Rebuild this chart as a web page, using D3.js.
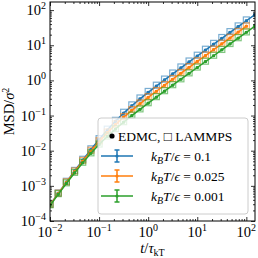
<!DOCTYPE html>
<html>
<head>
<meta charset="utf-8">
<script src="https://cdn.jsdelivr.net/npm/d3@7"></script>
<style>
  body { margin: 0; background: #fff; }
  svg { display: block; }
  text { font-family: "Liberation Serif", "DejaVu Serif", serif; fill: #000; }
</style>
</head>
<body>
<div id="chart"></div>
<script>
// sampling times t / tau_kT (6 per decade)
const times = [0.01, 0.01468, 0.02154, 0.03162, 0.04642, 0.06813, 0.1, 0.1468, 0.2154, 0.3162,
  0.4642, 0.6813, 1, 1.468, 2.154, 3.162, 4.642, 6.813, 10, 14.68, 21.54, 31.62, 46.42, 68.13, 100, 146.8];

// EDMC (dots + error bars), one per temperature
const edmcHot = [2.87e-4, 6.11e-4, 1.28e-3, 2.65e-3, 5.41e-3, 1.08e-2, 2.09e-2, 3.88e-2, 6.90e-2, 0.117,
  0.190, 0.298, 0.457, 0.690, 1.03, 1.53, 2.27, 3.35, 4.94, 7.27, 10.7, 15.7, 23.1, 33.9, 49.8, 73.1];
const edmcMid = [2.83e-4, 5.95e-4, 1.24e-3, 2.52e-3, 5.04e-3, 9.76e-3, 1.82e-2, 3.25e-2, 5.53e-2, 8.99e-2,
  0.141, 0.217, 0.328, 0.491, 0.729, 1.08, 1.60, 2.35, 3.46, 5.09, 7.48, 11.0, 16.1, 23.7, 34.8];
const edmcCold = [2.76e-4, 5.72e-4, 1.17e-3, 2.33e-3, 4.51e-3, 8.41e-3, 1.50e-2, 2.54e-2, 4.13e-2, 6.49e-2,
  0.0995, 0.150, 0.225, 0.334, 0.495, 0.731, 1.08, 1.59, 2.33, 3.43, 5.03, 7.39, 10.9, 15.9, 23.4, 34.3];

const errHot = [1.5e-5, 3e-5, 6e-5, 1.3e-4, 2.6e-4, 5e-4, 1e-3, 1.9e-3, 3.3e-3, 5.6e-3,
  9e-3, 0.014, 0.022, 0.033, 0.05, 0.073, 0.11, 0.16, 0.24, 0.35, 0.51, 0.75, 1.1, 1.6, 2.4, 3.5];
const errMid = [1.5e-5, 3e-5, 6e-5, 1.2e-4, 2.4e-4, 4.7e-4, 8.7e-4, 1.6e-3, 2.7e-3, 4.3e-3,
  6.8e-3, 0.01, 0.016, 0.024, 0.035, 0.052, 0.077, 0.11, 0.17, 0.24, 0.36, 0.53, 0.77, 1.1, 1.7];
const errCold = [1.5e-5, 3e-5, 6e-5, 1.1e-4, 2.2e-4, 4e-4, 7.2e-4, 1.2e-3, 2e-3, 3.1e-3,
  4.8e-3, 7.2e-3, 0.011, 0.016, 0.024, 0.035, 0.052, 0.076, 0.11, 0.16, 0.24, 0.35, 0.52, 0.76, 1.1, 1.6];

// LAMMPS (open squares)
const lammpsHot = [3.0e-4, 6.3e-4, 1.35e-3, 2.75e-3, 5.7e-3, 1.13e-2, 2.2e-2, 4.1e-2, 7.3e-2, 0.124,
  0.201, 0.316, 0.485, 0.73, 1.09, 1.62, 2.41, 3.56, 5.2, 7.7, 11.3, 16.6, 24.4, 35.5, 52.5];
const lammpsMid = [3.0e-4, 6.2e-4, 1.3e-3, 2.65e-3, 5.3e-3, 1.03e-2, 1.92e-2, 3.4e-2, 5.8e-2, 9.4e-2,
  0.148, 0.228, 0.344, 0.515, 0.765, 1.13, 1.68, 2.47, 3.63, 5.3, 7.8, 11.5, 16.9, 24.8, 35.5];
const lammpsCold = [2.9e-4, 6.0e-4, 1.22e-3, 2.42e-3, 4.7e-3, 8.7e-3, 1.55e-2, 2.62e-2, 4.25e-2, 6.7e-2,
  0.103, 0.155, 0.232, 0.345, 0.51, 0.755, 1.11, 1.64, 2.4, 3.52, 5.2, 7.6, 11.2, 16.4, 24.0];

const tempLabels = ['0.1', '0.025', '0.001'];
const colors = ['#1f77b4', '#ff7f0e', '#2ca02c'];

const xDecades = [1e-2, 1e-1, 1, 10, 100];
const xExps = ['\u22122', '\u22121', '0', '1', '2'];
const yDecades = [1e-4, 1e-3, 1e-2, 1e-1, 1, 10, 100];
const yExps = ['\u22124', '\u22123', '\u22122', '\u22121', '0', '1', '2'];

let series = [
    {edmc: edmcHot, err: errHot, lammps: lammpsHot},
    {edmc: edmcMid, err: errMid, lammps: lammpsMid},
    {edmc: edmcCold, err: errCold, lammps: lammpsCold}
];

const W = 258, H = 258;
const plot = {left: 50, right: 255, top: 2, bottom: 221};

let svg = d3.select('#chart').append('svg')
    .attr('width', W).attr('height', H);

let x = d3.scaleLog().domain([1e-2, 150]).range([plot.left, plot.right]);
let y = d3.scaleLog().domain([1e-4, 170]).range([plot.bottom, plot.top]);

svg.append('clipPath').attr('id', 'clip')
    .append('rect')
    .attr('x', plot.left).attr('y', plot.top)
    .attr('width', plot.right - plot.left).attr('height', plot.bottom - plot.top);

// ---- data
let dataLayer = svg.append('g').attr('clip-path', 'url(#clip)');

let line = d3.line()
    .x(d => x(d.t))
    .y(d => y(d.m));

series.forEach(function(s, i) {
    let pts = s.edmc.map((m, k) => ({t: times[k], m: m, e: s.err[k]}));
    let sq = s.lammps.map((m, k) => ({t: times[k], m: m}));
    let g = dataLayer.append('g');

    g.append('path')
        .datum(pts)
        .attr('d', line)
        .attr('fill', 'none')
        .attr('stroke', colors[i])
        .attr('stroke-width', 1.5);

    g.selectAll('.eb').data(pts).enter().append('path')
        .attr('d', d => {
            let cx = x(d.t), y0 = y(d.m - d.e), y1 = y(d.m + d.e);
            return `M${cx},${y0}V${y1}M${cx - 1.5},${y0}H${cx + 1.5}M${cx - 1.5},${y1}H${cx + 1.5}`;
        })
        .attr('stroke', colors[i])
        .attr('stroke-width', 1);

    g.selectAll('.dot').data(pts).enter().append('circle')
        .attr('cx', d => x(d.t))
        .attr('cy', d => y(d.m))
        .attr('r', 1.6)
        .attr('fill', colors[i]);

    g.selectAll('.sq').data(sq).enter().append('rect')
        .attr('x', d => x(d.t) - 3)
        .attr('y', d => y(d.m) - 3)
        .attr('width', 6).attr('height', 6)
        .attr('fill', 'none')
        .attr('stroke', colors[i])
        .attr('stroke-opacity', 0.6)
        .attr('stroke-width', 1.2);
});

// ---- axes (ticks pointing inward on all four sides)
function minorTicks(scale) {
    return scale.ticks().filter(v => Math.abs(Math.log10(v) - Math.round(Math.log10(v))) > 1e-6);
}

function addAxis(gen, tx, ty, vals, size) {
    svg.append('g')
        .attr('transform', `translate(${tx},${ty})`)
        .call(gen.tickValues(vals).tickSize(size).tickSizeOuter(0).tickFormat(''))
        .call(g => g.select('.domain').remove())
        .call(g => g.selectAll('line').attr('stroke', '#000').attr('stroke-width', 0.8));
}

addAxis(d3.axisBottom(x), 0, plot.bottom, xDecades, -4);
addAxis(d3.axisBottom(x), 0, plot.bottom, minorTicks(x), -2);
addAxis(d3.axisTop(x), 0, plot.top, xDecades, -4);
addAxis(d3.axisTop(x), 0, plot.top, minorTicks(x), -2);
addAxis(d3.axisLeft(y), plot.left, 0, yDecades, -4);
addAxis(d3.axisLeft(y), plot.left, 0, minorTicks(y), -2);
addAxis(d3.axisRight(y), plot.right, 0, yDecades, -4);
addAxis(d3.axisRight(y), plot.right, 0, minorTicks(y), -2);

svg.append('rect')
    .attr('x', plot.left).attr('y', plot.top)
    .attr('width', plot.right - plot.left).attr('height', plot.bottom - plot.top)
    .attr('fill', 'none').attr('stroke', '#000').attr('stroke-width', 1);

// tick labels 10^n
let xl = svg.append('g').selectAll('text').data(xDecades).enter().append('text')
    .attr('x', d => x(d))
    .attr('y', 237)
    .attr('text-anchor', 'middle')
    .attr('font-size', 14.5);
xl.append('tspan').text('10');
xl.append('tspan').attr('dy', -6).attr('font-size', 10).text((d, i) => xExps[i]);

let yl = svg.append('g').selectAll('text').data(yDecades).enter().append('text')
    .attr('x', 46)
    .attr('y', d => y(d) + 5)
    .attr('text-anchor', 'end')
    .attr('font-size', 14.5);
yl.append('tspan').text('10');
yl.append('tspan').attr('dy', -6).attr('font-size', 10).text((d, i) => yExps[i]);

// axis titles
let xt = svg.append('text')
    .attr('x', (plot.left + plot.right) / 2)
    .attr('y', 253)
    .attr('text-anchor', 'middle')
    .attr('font-size', 14.5);
xt.append('tspan').attr('font-style', 'italic').text('t');
xt.append('tspan').text('/');
xt.append('tspan').attr('font-style', 'italic').text('\u03c4');
xt.append('tspan').attr('dy', 3).attr('font-size', 10).text('kT');

let yt = svg.append('text')
    .attr('transform', `translate(14,${(plot.top + plot.bottom) / 2}) rotate(-90)`)
    .attr('text-anchor', 'middle')
    .attr('font-size', 14.5);
yt.append('tspan').text('MSD/');
yt.append('tspan').attr('font-style', 'italic').text('\u03c3');
yt.append('tspan').attr('dy', -5).attr('font-size', 10).text('2');

// ---- legend
let leg = svg.append('g');
leg.append('rect')
    .attr('x', 98).attr('y', 118)
    .attr('width', 150).attr('height', 96)
    .attr('rx', 3)
    .attr('fill', '#fff').attr('fill-opacity', 0.8)
    .attr('stroke', '#ccc').attr('stroke-width', 1);

leg.append('circle').attr('cx', 112).attr('cy', 136).attr('r', 2.6).attr('fill', '#000');
let head = leg.append('text').attr('x', 118).attr('y', 140.5).attr('font-size', 13.5);
head.append('tspan').text('EDMC, ');
head.append('tspan').text('\u25a1');
head.append('tspan').text(' LAMMPS');

tempLabels.forEach(function(lbl, i) {
    let cy = 156 + i * 20;
    let hx = 117;
    leg.append('path')
        .attr('d', `M101,${cy}H133M${hx},${cy - 6}V${cy + 6}M${hx - 2.5},${cy - 6}H${hx + 2.5}M${hx - 2.5},${cy + 6}H${hx + 2.5}`)
        .attr('stroke', colors[i]).attr('stroke-width', 1.5).attr('fill', 'none');
    leg.append('circle').attr('cx', hx).attr('cy', cy).attr('r', 1.6).attr('fill', colors[i]);

    let t = leg.append('text').attr('x', 151).attr('y', cy + 5).attr('font-size', 13.5);
    t.append('tspan').attr('font-style', 'italic').text('k');
    t.append('tspan').attr('font-style', 'italic').attr('font-size', 10).attr('dy', 3).text('B');
    t.append('tspan').attr('font-style', 'italic').attr('dy', -3).text('T');
    t.append('tspan').text('/');
    t.append('tspan').attr('font-style', 'italic').text('\u03f5');
    t.append('tspan').text(' = ' + lbl);
});
</script>
</body>
</html>
